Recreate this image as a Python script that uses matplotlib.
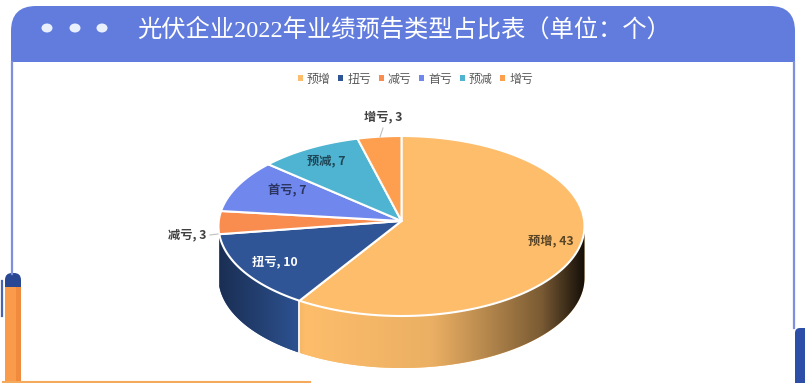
import numpy as np
import matplotlib
matplotlib.use('Agg')
import matplotlib.pyplot as plt
from matplotlib.colors import to_rgb
from matplotlib.patches import FancyBboxPatch, Rectangle, Ellipse

plt.rcParams['font.family'] = ['Noto Sans CJK SC', 'DejaVu Sans']

title = '光伏企业2022年业绩预告类型占比表（单位：个）'
categories = ['预增', '扭亏', '减亏', '首亏', '预减', '增亏']
values = [43, 10, 3, 7, 7, 3]
colors = ['#FDBD6B', '#2F5597', '#F98C4F', '#7087EE', '#4FB3D2', '#FD9F4E']

W, H = 805, 383
fig = plt.figure(figsize=(W / 100, H / 100), dpi=100, facecolor='white')

# page furniture, drawn in pixel coordinates
bg = fig.add_axes([0, 0, 1, 1])
bg.set_xlim(0, W)
bg.set_ylim(H, 0)
bg.axis('off')

bg.add_patch(FancyBboxPatch((11, 6), 784, 120, boxstyle='round,pad=0,rounding_size=25',
                            fc='#627CDE', ec='none'))
bg.add_patch(Rectangle((0, 62), W, H - 62, fc='white', ec='none'))
bg.plot([12, 12], [62, 274], color='#7E90DD', lw=1.6)
bg.plot([794, 794], [62, 328], color='#7E90DD', lw=1.6)
for x in [47, 75, 102]:
    bg.add_patch(Ellipse((x, 28), 11, 9, fc='#EAF0FB', ec='none'))

# pen on the left edge
bg.add_patch(FancyBboxPatch((5, 273), 16, 30, boxstyle='round,pad=0,rounding_size=7',
                            fc='#2A4793', ec='none'))
bg.add_patch(Rectangle((5, 287), 16, 96, fc='#F99B4A', ec='none'))
bg.add_patch(Rectangle((16, 287), 5, 96, fc='#F08A3C', ec='none'))
bg.plot([2, 2], [281, 316], color='#4A63B0', lw=1.6)
bg.plot([3, 310], [382, 382], color='#F5A95A', lw=1.5)
# blue tab on the right edge
bg.add_patch(FancyBboxPatch((795, 328), 20, 80, boxstyle='round,pad=0,rounding_size=5',
                            fc='#2C4EA6', ec='none'))

bg.text(137, 30, title, color='white', fontsize=17.5, va='center', ha='left',
        family=['Liberation Serif', 'Noto Sans CJK SC'])

# pie: the axes are squashed to make the ellipse, apex sits a bit above its centre
cx, cy, rx, ry, depth = 401.5, 226, 183, 90, 52
d = depth / ry
apex_y = 5 / ry
ax = fig.add_axes([(cx - rx) / W, 1 - (cy + ry + depth) / H, 2 * rx / W, (2 * ry + depth) / H])
ax.axis('off')
ax.patch.set_alpha(0)

edges = np.concatenate([[0], np.cumsum(values)]) / sum(values) * 2 * np.pi
edges = edges - 0.06 * np.sin(edges)  # perspective pulls the angles a little

# side wall with a horizontal shading gradient
shade_x = [-1.0, -0.75, -0.53, 0.16, 0.43, 0.76, 0.92, 1.0]
shade_v = [0.55, 0.78, 1.0, 0.93, 0.74, 0.48, 0.2, 0.07]
grad_x = np.linspace(-1, 1, 512)
shade = np.interp(grad_x, shade_x, shade_v)
for t0, t1, c in zip(edges[:-1], edges[1:], colors):
    a0, a1 = max(t0, np.pi / 2), min(t1, 3 * np.pi / 2)
    if a1 <= a0:
        continue
    t = np.linspace(a0, a1, 100)
    xs, ys = np.sin(t), np.cos(t)
    poly = ax.fill(np.r_[xs, xs[::-1]], np.r_[ys, ys[::-1] - d], color=c, lw=0, zorder=0.5)[0]
    grad = shade[None, :, None] * np.array(to_rgb(c))[None, None, :]
    im = ax.imshow(grad, extent=(-1, 1, -1 - d, 1), aspect='auto', zorder=0.6,
                   interpolation='bilinear')
    im.set_clip_path(poly)
    if a0 == t0 and xs[0] > -0.9:
        ax.plot([xs[0], xs[0]], [ys[0], ys[0] - d], color='white', lw=1.3, zorder=0.8,
                clip_on=False)

# top face
for t0, t1, c in zip(edges[:-1], edges[1:], colors):
    t = np.linspace(t0, t1, 120)
    ax.fill(np.r_[0, np.sin(t)], np.r_[apex_y, np.cos(t)], facecolor=c, edgecolor='white',
            lw=1.5, joinstyle='round', zorder=2, clip_on=False)
ax.set_xlim(-1, 1)
ax.set_ylim(-1 - d, 1)

# legend
handles = [Rectangle((0, 0), 1, 1, fc=c, ec='none') for c in colors]
fig.legend(handles, categories, loc='center', bbox_to_anchor=(415.5 / W, 1 - 79 / H), ncol=6,
           frameon=False, fontsize=8.6, labelcolor='#595959', handlelength=0.42, handleheight=0.42,
           handletextpad=0.33, columnspacing=0.65)

# data labels
top = fig.add_axes([0, 0, 1, 1])
top.set_xlim(0, W)
top.set_ylim(H, 0)
top.axis('off')
top.patch.set_alpha(0)
label_pos = [(551, 241), (275, 262), (187, 235), (287, 191), (326, 161), (383, 117)]
label_col = ['#5A4526', 'white', '#404040', '#2B3560', '#1F4654', '#404040']
for cat, v, (x, y), col in zip(categories, values, label_pos, label_col):
    top.text(x, y, f'{cat}, {v}', color=col, fontsize=8.8, ha='center', va='center',
             fontweight='bold')
top.plot([210, 218], [235, 234], color='#BFBFBF', lw=0.8)
top.plot([380, 383], [137, 128], color='#BFBFBF', lw=0.8)

fig.savefig('out.png', dpi=100)
